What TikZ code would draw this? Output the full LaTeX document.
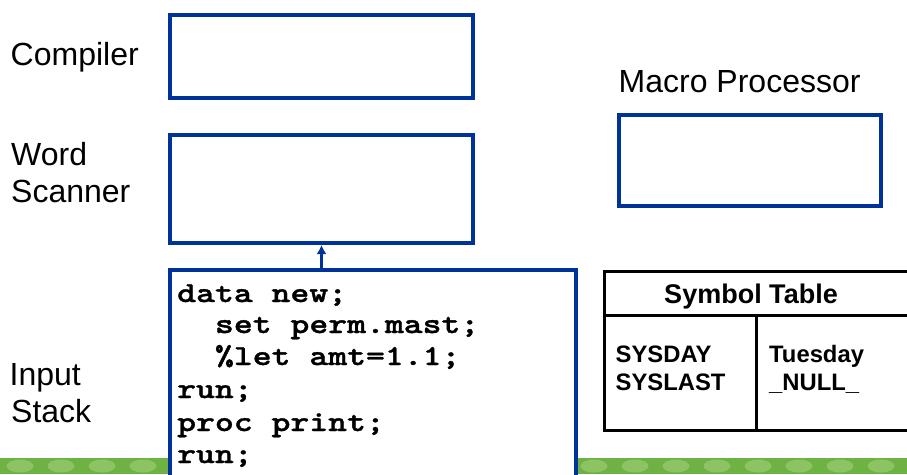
\documentclass[tikz,border=0pt]{standalone}
\usepackage{fontspec}
\setmainfont{Liberation Sans}
\newfontfamily\codefont{lmmonolt10-bold}[Extension=.otf, FakeStretch=1.24, FakeBold=1.2]
\usetikzlibrary{arrows.meta}
\definecolor{boxblue}{RGB}{0,51,153}
\definecolor{bandgreen}{RGB}{110,178,68}
\definecolor{dotgreen}{RGB}{140,196,100}
\tikzset{
  bluebox/.style={draw=boxblue, line width=4pt, fill=white, inner sep=0pt},
  lbl/.style={anchor=base west, inner sep=0pt, font=\fontsize{32}{36}\selectfont},
  codeline/.style={anchor=base west, inner sep=0pt, font=\codefont\fontsize{29}{32}\selectfont},
  cell/.style={anchor=base west, inner sep=0pt, font=\bfseries\fontsize{23.8}{26}\selectfont},
  tabline/.style={draw=black, line width=3pt},
  feed/.style={draw=boxblue, line width=2.5pt, -{Latex[length=9pt,width=10pt]}}
}
\begin{document}
\begin{tikzpicture}[x=1pt, y=-1pt]
\useasboundingbox (0,0) rectangle (907,474);
\clip (0,0) rectangle (907,474);

% green strip along the bottom edge
\fill[bandgreen] (0,458) rectangle (907,474);
\foreach \k in {0,...,21}
  \fill[dotgreen] (20+41*\k,466) ellipse (13.5 and 6.5);

% left-hand labels
\node[lbl] (lcomp) at (10.5,65) {Compiler};
\node[lbl] (lword) at (11,165) {Word};
\node[lbl] (lscan) at (11,202) {Scanner};
\node[lbl] (linput) at (9.5,385) {Input};
\node[lbl] (lstack) at (11,422) {Stack};

% processing stages
\node[bluebox, minimum width=303pt, minimum height=83pt] (compiler) at (321.5,56.5) {};
\node[bluebox, minimum width=303pt, minimum height=108pt] (scanner) at (321.5,189) {};
\node[bluebox, minimum width=406pt, minimum height=230pt] (input) at (373,385) {};

% macro processor
\node[lbl] (lmacro) at (618.5,92) {Macro Processor};
\node[bluebox, minimum width=262pt, minimum height=91pt] (macro) at (750,160.5) {};

% input stack feeds the word scanner
\draw[feed] (scanner.south |- input.north) -- (scanner.south);

% program text on the input stack
\node[codeline] (c1) at (177,302) {data new;};
\node[codeline] (c2) at (214.8,333) {set perm.mast;};
\node[codeline] (c3) at (214.8,365) {\%let amt=1.1;};
\node[codeline] (c4) at (177,398) {run;};
\node[codeline] (c5) at (177,431) {proc print;};
\node[codeline] (c6) at (177,463) {run;};

% symbol table
\draw[tabline] (925,271) -- (604,271) -- (604,430) -- (925,430);
\draw[tabline] (604,315) -- (925,315);
\draw[tabline] (756,315) -- (756,430);
\node[anchor=base, inner sep=0pt, font=\bfseries\fontsize{27}{30}\selectfont] (thead) at (751,303) {Symbol Table};
\node[cell] (n1) at (615.5,362) {SYSDAY};
\node[cell] (n2) at (615.5,390) {SYSLAST};
\node[cell] (v1) at (769,362) {Tuesday};
\node[cell] (v2) at (769,390) {\_NULL\_};
\end{tikzpicture}
\end{document}
